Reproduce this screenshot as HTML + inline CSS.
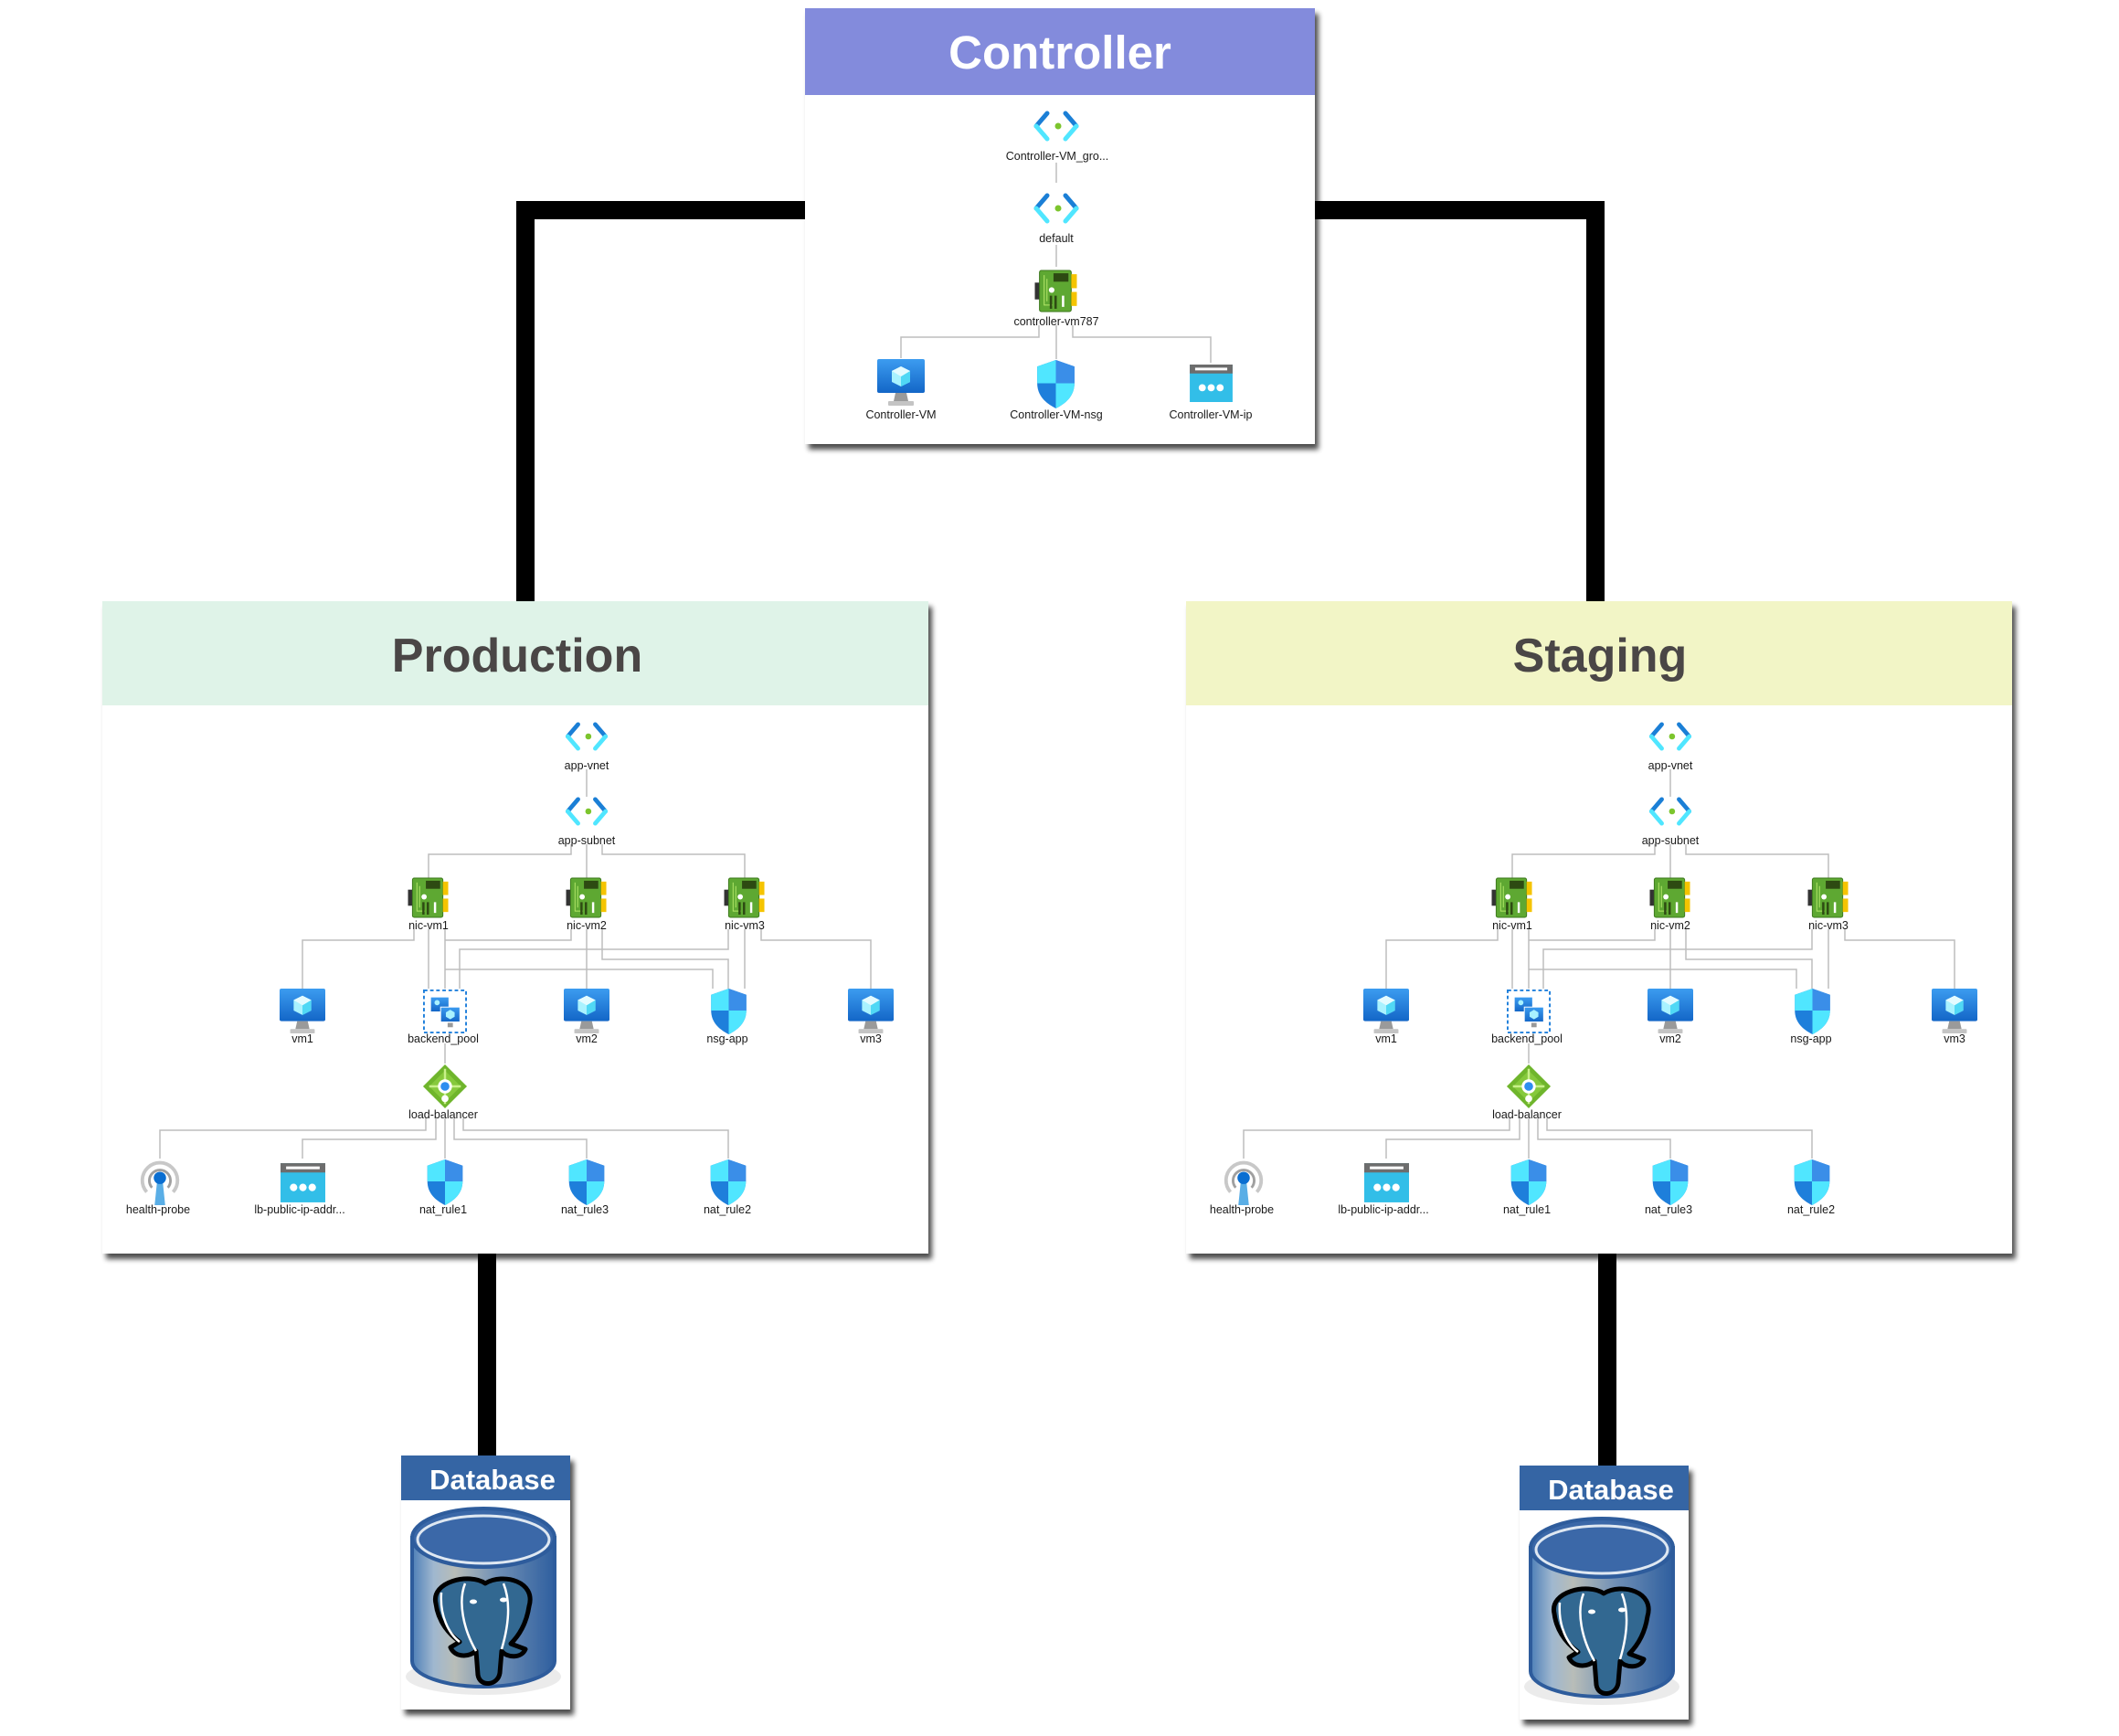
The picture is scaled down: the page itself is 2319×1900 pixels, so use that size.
<!DOCTYPE html>
<html><head><meta charset="utf-8"><style>
html,body{margin:0;padding:0;background:#fff;}
svg{display:block;}
text{font-family:"Liberation Sans",sans-serif;}
.lb{font-size:12.5px;fill:#1a1a1a;text-anchor:middle;}
.c{fill:none;stroke:#bdbdbd;stroke-width:1.5;}
.k{fill:none;stroke:#000;stroke-width:20;}
</style></head><body>
<svg width="2319" height="1900" viewBox="0 0 2319 1900" xmlns="http://www.w3.org/2000/svg">
<defs>
<filter id="sh" x="-5%" y="-5%" width="115%" height="115%"><feGaussianBlur in="SourceAlpha" stdDeviation="3"/><feOffset dx="4" dy="6"/><feComponentTransfer><feFuncA type="linear" slope="0.7"/></feComponentTransfer><feMerge><feMergeNode/><feMergeNode in="SourceGraphic"/></feMerge></filter>
<linearGradient id="vmg" x1="0" y1="0" x2="0" y2="1"><stop offset="0" stop-color="#3c9cf0"/><stop offset="1" stop-color="#1366c7"/></linearGradient>
<linearGradient id="cyl" x1="0" y1="0" x2="1" y2="0"><stop offset="0" stop-color="#4d7fb8"/><stop offset="0.15" stop-color="#9fb7cf"/><stop offset="0.3" stop-color="#b8bdb8"/><stop offset="0.6" stop-color="#6f8fb5"/><stop offset="1" stop-color="#2f5f9f"/></linearGradient>
<symbol id="vnet" viewBox="0 0 52 34">
<path d="M16 3 L4 17" stroke="#1b7fd6" stroke-width="5" stroke-linecap="round"/>
<path d="M4 17 L16 31" stroke="#50e6ff" stroke-width="5" stroke-linecap="round"/>
<path d="M36 3 L48 17" stroke="#1b7fd6" stroke-width="5" stroke-linecap="round"/>
<path d="M48 17 L36 31" stroke="#50e6ff" stroke-width="5" stroke-linecap="round"/>
<circle cx="28" cy="17" r="3.5" fill="#7cc52d"/>
</symbol>
<symbol id="nic" viewBox="0 0 48 46">
<rect x="1" y="14" width="5" height="18" fill="#333"/>
<rect x="6" y="1" width="34" height="44" rx="2" fill="#5ea832" stroke="#3e7a1f"/>
<rect x="40" y="5" width="6" height="15" fill="#f5c400"/>
<rect x="40" y="24" width="6" height="15" fill="#f5c400"/>
<rect x="21" y="4" width="16" height="9" fill="#2d4a12"/>
<path d="M11 6 V38 H20 M14 10 V34" stroke="#b5e86a" fill="none" stroke-width="1"/>
<circle cx="19" cy="22" r="3" fill="#fff"/>
<rect x="17" y="28" width="2.5" height="14" fill="#2d4a12"/><rect x="22" y="28" width="2.5" height="14" fill="#2d4a12"/>
<rect x="30" y="28" width="2.5" height="12" fill="#fff"/>
</symbol>
<symbol id="vm" viewBox="0 0 52 52">
<rect x="0" y="0" width="52" height="37" rx="2" fill="url(#vmg)"/>
<polygon points="20,37 32,37 34,46 18,46" fill="#9a9a9a"/>
<rect x="12" y="46" width="28" height="5" rx="1" fill="#c4c4c4"/>
<polygon points="26,8 36,13 36,25 26,30 16,25 16,13" fill="#a9f2ff"/>
<polygon points="26,19 36,13 36,25 26,30" fill="#50d8f5"/>
<polygon points="26,8 36,13 26,19 16,13" fill="#e4fbff"/>
</symbol>
<symbol id="shield" viewBox="0 0 42 54">
<path d="M21 1 L41 8 L41 26 C41 40 31 48 21 53 C11 48 1 40 1 26 L1 8 Z" fill="#1e7fdb"/>
<path d="M21 1 L41 8 L41 26 L21 26 Z" fill="#3a8ee8"/>
<path d="M21 1 L1 8 L1 26 L21 26 Z" fill="#50e6ff"/>
<path d="M21 26 L41 26 C41 40 31 48 21 53 Z" fill="#50e6ff"/>
</symbol>
<symbol id="ip" viewBox="0 0 48 42">
<rect x="0" y="0" width="48" height="42" fill="#32bee8"/>
<rect x="0" y="0" width="48" height="10" fill="#6d6d6d"/>
<rect x="6" y="3.5" width="36" height="3" fill="#fff"/>
<circle cx="14" cy="26" r="4" fill="#fff"/><circle cx="24" cy="26" r="4" fill="#fff"/><circle cx="34" cy="26" r="4" fill="#fff"/>
</symbol>
<symbol id="pool" viewBox="0 0 50 50">
<rect x="1" y="1" width="48" height="48" fill="#fff" stroke="#1e7fdb" stroke-width="2" stroke-dasharray="4,3"/>
<rect x="9" y="9" width="20" height="16" fill="url(#vmg)"/>
<rect x="20" y="20" width="22" height="17" fill="url(#vmg)" stroke="#fff"/>
<polygon points="31,23 36,26 36,31 31,34 26,31 26,26" fill="#a9f2ff"/>
<rect x="28" y="38" width="6" height="5" fill="#999"/>
<circle cx="16" cy="15" r="3" fill="#a9f2ff"/>
</symbol>
<symbol id="lbal" viewBox="0 0 52 52">
<polygon points="26,1 51,26 26,51 1,26" fill="#6fb52c"/>
<polygon points="26,8 44,26 26,44 8,26" fill="#86c93c"/>
<path d="M26 6 V20 M26 32 V46 M8 26 H20 M32 26 H44" stroke="#c8f08a" stroke-width="2.5"/>
<circle cx="26" cy="26" r="8" fill="#fff"/><circle cx="26" cy="26" r="5" fill="#2d8ef0"/>
<circle cx="26" cy="40" r="4" fill="#fff"/>
</symbol>
<symbol id="probe" viewBox="0 0 46 54">
<path d="M8 38 A20 20 0 1 1 38 38" fill="none" stroke="#c8c8c8" stroke-width="4"/>
<path d="M14 33 A12 12 0 1 1 32 33" fill="none" stroke="#a0a0a0" stroke-width="3"/>
<polygon points="20,24 26,24 29,53 17,53" fill="#5aaee6"/>
<circle cx="23" cy="22" r="7" fill="#0a6ed1"/>
</symbol>
<symbol id="db" viewBox="0 0 185 278">
<rect x="0" y="0" width="185" height="278" fill="#fff"/>
<rect x="0" y="0" width="185" height="49" fill="#3465a4"/>
<text x="100" y="37" font-size="31" font-weight="bold" fill="#fff" text-anchor="middle">Database</text>
<ellipse cx="90" cy="242" rx="85" ry="20" fill="#ddd" opacity="0.6"/>
<path d="M12 90 V225 A78 28 0 0 0 168 225 V90 Z" fill="url(#cyl)" stroke="#2d5c9c" stroke-width="4"/>
<ellipse cx="90" cy="90" rx="78" ry="32" fill="#3a68a8" stroke="#2d5c9c" stroke-width="4"/>
<ellipse cx="90" cy="92" rx="72" ry="26" fill="none" stroke="#dfe8f2" stroke-width="3"/>
<path d="M38 162 C32 138 75 128 92 140 C112 128 148 138 140 165 C137 185 128 198 120 206 L136 212 C132 222 116 222 110 214 L108 238 C106 252 86 254 84 240 L82 214 C72 222 58 220 54 210 L64 204 C48 192 40 178 38 162 Z" fill="#336791" stroke="#000" stroke-width="5" stroke-linejoin="round"/>
<path d="M44 150 C42 175 52 195 64 204 M70 140 C62 160 68 190 82 214 M112 140 C120 160 118 185 110 212" fill="none" stroke="#fff" stroke-width="2.5"/>
<ellipse cx="79" cy="160" rx="4" ry="2.5" fill="#fff"/><ellipse cx="112" cy="158" rx="4" ry="2.5" fill="#fff"/>
</symbol>
</defs>

<!-- thick connectors -->
<path class="k" d="M881 230 H575 V661"/>
<path class="k" d="M1439 230 H1746 V661"/>
<path class="k" d="M533 1370 V1595"/>
<path class="k" d="M1759 1370 V1606"/>

<!-- Controller -->
<g filter="url(#sh)">
<rect x="881" y="9" width="558" height="477" fill="#fff"/>
<rect x="881" y="9" width="558" height="95" fill="#838bdc"/>
</g>
<text x="1160" y="75" font-size="51" font-weight="bold" fill="#fff" text-anchor="middle">Controller</text>
<path class="c" d="M1156 178 V200 M1156 268 V292 M1137 356 V369 H986 V392 M1156 356 V393 M1174 356 V369 H1325 V397"/>
<use href="#vnet" x="1130" y="121" width="52" height="34"/>
<text class="lb" x="1157" y="175">Controller-VM_gro...</text>
<use href="#vnet" x="1130" y="211" width="52" height="34"/>
<text class="lb" x="1156" y="265">default</text>
<use href="#nic" x="1129" y="295" width="54" height="47"/>
<text class="lb" x="1156" y="356">controller-vm787</text>
<use href="#vm" x="958" y="393" width="56" height="52"/>
<text class="lb" x="986" y="458">Controller-VM</text>
<use href="#shield" x="1132" y="393" width="47" height="55"/>
<text class="lb" x="1156" y="458">Controller-VM-nsg</text>
<use href="#ip" x="1299" y="399" width="53" height="41"/>
<text class="lb" x="1325" y="458">Controller-VM-ip</text>

<!-- Production -->
<g>
<rect x="112" y="658" width="904" height="714" fill="#fff" filter="url(#sh)"/>
<path class="c" d="M642 842 V872 M625 924 V935 H469 V961 M642 924 V961 M659 924 V935 H815 V961
M453 1017 V1029 H331 V1082 M469 1017 V1082 M487 1017 V1061 H780 V1082
M625 1017 V1029 H487 V1082 M642 1017 V1082 M659 1017 V1050 H797 V1082
M797 1017 V1039 H503 V1082 M815 1017 V1082 M833 1017 V1029 H953 V1082
M487 1142 V1164 M466 1224 V1237 H175 V1268 M477 1224 V1247 H331 V1268 M487 1224 V1268 M497 1224 V1247 H642 V1268 M507 1224 V1237 H797 V1268"/>
<use href="#vnet" x="616" y="790" width="52" height="32"/>
<use href="#vnet" x="616" y="872" width="52" height="32"/>
<use href="#nic" x="445" y="960" width="48" height="45"/>
<use href="#nic" x="618" y="960" width="48" height="45"/>
<use href="#nic" x="791" y="960" width="48" height="45"/>
<use href="#vm" x="305" y="1082" width="52" height="50"/>
<use href="#pool" x="463" y="1083" width="48" height="48"/>
<use href="#vm" x="616" y="1082" width="52" height="50"/>
<use href="#shield" x="776" y="1081" width="43" height="52"/>
<use href="#vm" x="927" y="1082" width="52" height="50"/>
<use href="#lbal" x="461" y="1164" width="52" height="50"/>
<use href="#probe" x="152" y="1268" width="46" height="52"/>
<use href="#ip" x="307" y="1273" width="49" height="43"/>
<use href="#shield" x="466" y="1268" width="42" height="52"/>
<use href="#shield" x="621" y="1268" width="42" height="52"/>
<use href="#shield" x="776" y="1268" width="42" height="52"/>
<text class="lb" x="642" y="842">app-vnet</text>
<text class="lb" x="642" y="924">app-subnet</text>
<text class="lb" x="469" y="1017">nic-vm1</text>
<text class="lb" x="642" y="1017">nic-vm2</text>
<text class="lb" x="815" y="1017">nic-vm3</text>
<text class="lb" x="331" y="1141">vm1</text>
<text class="lb" x="485" y="1141">backend_pool</text>
<text class="lb" x="642" y="1141">vm2</text>
<text class="lb" x="796" y="1141">nsg-app</text>
<text class="lb" x="953" y="1141">vm3</text>
<text class="lb" x="485" y="1224">load-balancer</text>
<text class="lb" x="173" y="1328">health-probe</text>
<text class="lb" x="328" y="1328">lb-public-ip-addr...</text>
<text class="lb" x="485" y="1328">nat_rule1</text>
<text class="lb" x="640" y="1328">nat_rule3</text>
<text class="lb" x="796" y="1328">nat_rule2</text>
</g>
<rect x="112" y="658" width="904" height="114" fill="#dff3e8"/>
<text x="566" y="735" font-size="52" font-weight="bold" fill="#4a4646" text-anchor="middle">Production</text>

<!-- Staging -->
<g transform="translate(1186,0)">
<rect x="112" y="658" width="904" height="714" fill="#fff" filter="url(#sh)"/>
<path class="c" d="M642 842 V872 M625 924 V935 H469 V961 M642 924 V961 M659 924 V935 H815 V961
M453 1017 V1029 H331 V1082 M469 1017 V1082 M487 1017 V1061 H780 V1082
M625 1017 V1029 H487 V1082 M642 1017 V1082 M659 1017 V1050 H797 V1082
M797 1017 V1039 H503 V1082 M815 1017 V1082 M833 1017 V1029 H953 V1082
M487 1142 V1164 M466 1224 V1237 H175 V1268 M477 1224 V1247 H331 V1268 M487 1224 V1268 M497 1224 V1247 H642 V1268 M507 1224 V1237 H797 V1268"/>
<use href="#vnet" x="616" y="790" width="52" height="32"/>
<use href="#vnet" x="616" y="872" width="52" height="32"/>
<use href="#nic" x="445" y="960" width="48" height="45"/>
<use href="#nic" x="618" y="960" width="48" height="45"/>
<use href="#nic" x="791" y="960" width="48" height="45"/>
<use href="#vm" x="305" y="1082" width="52" height="50"/>
<use href="#pool" x="463" y="1083" width="48" height="48"/>
<use href="#vm" x="616" y="1082" width="52" height="50"/>
<use href="#shield" x="776" y="1081" width="43" height="52"/>
<use href="#vm" x="927" y="1082" width="52" height="50"/>
<use href="#lbal" x="461" y="1164" width="52" height="50"/>
<use href="#probe" x="152" y="1268" width="46" height="52"/>
<use href="#ip" x="307" y="1273" width="49" height="43"/>
<use href="#shield" x="466" y="1268" width="42" height="52"/>
<use href="#shield" x="621" y="1268" width="42" height="52"/>
<use href="#shield" x="776" y="1268" width="42" height="52"/>
<text class="lb" x="642" y="842">app-vnet</text>
<text class="lb" x="642" y="924">app-subnet</text>
<text class="lb" x="469" y="1017">nic-vm1</text>
<text class="lb" x="642" y="1017">nic-vm2</text>
<text class="lb" x="815" y="1017">nic-vm3</text>
<text class="lb" x="331" y="1141">vm1</text>
<text class="lb" x="485" y="1141">backend_pool</text>
<text class="lb" x="642" y="1141">vm2</text>
<text class="lb" x="796" y="1141">nsg-app</text>
<text class="lb" x="953" y="1141">vm3</text>
<text class="lb" x="485" y="1224">load-balancer</text>
<text class="lb" x="173" y="1328">health-probe</text>
<text class="lb" x="328" y="1328">lb-public-ip-addr...</text>
<text class="lb" x="485" y="1328">nat_rule1</text>
<text class="lb" x="640" y="1328">nat_rule3</text>
<text class="lb" x="796" y="1328">nat_rule2</text>
<rect x="112" y="658" width="904" height="114" fill="#f2f5c6"/>
<text x="565" y="735" font-size="52" font-weight="bold" fill="#4a4646" text-anchor="middle">Staging</text>
</g>

<!-- Databases -->
<g filter="url(#sh)"><use href="#db" x="439" y="1593" width="185" height="278"/></g>
<g filter="url(#sh)"><use href="#db" x="1663" y="1604" width="185" height="278"/></g>
</svg>
</body></html>
